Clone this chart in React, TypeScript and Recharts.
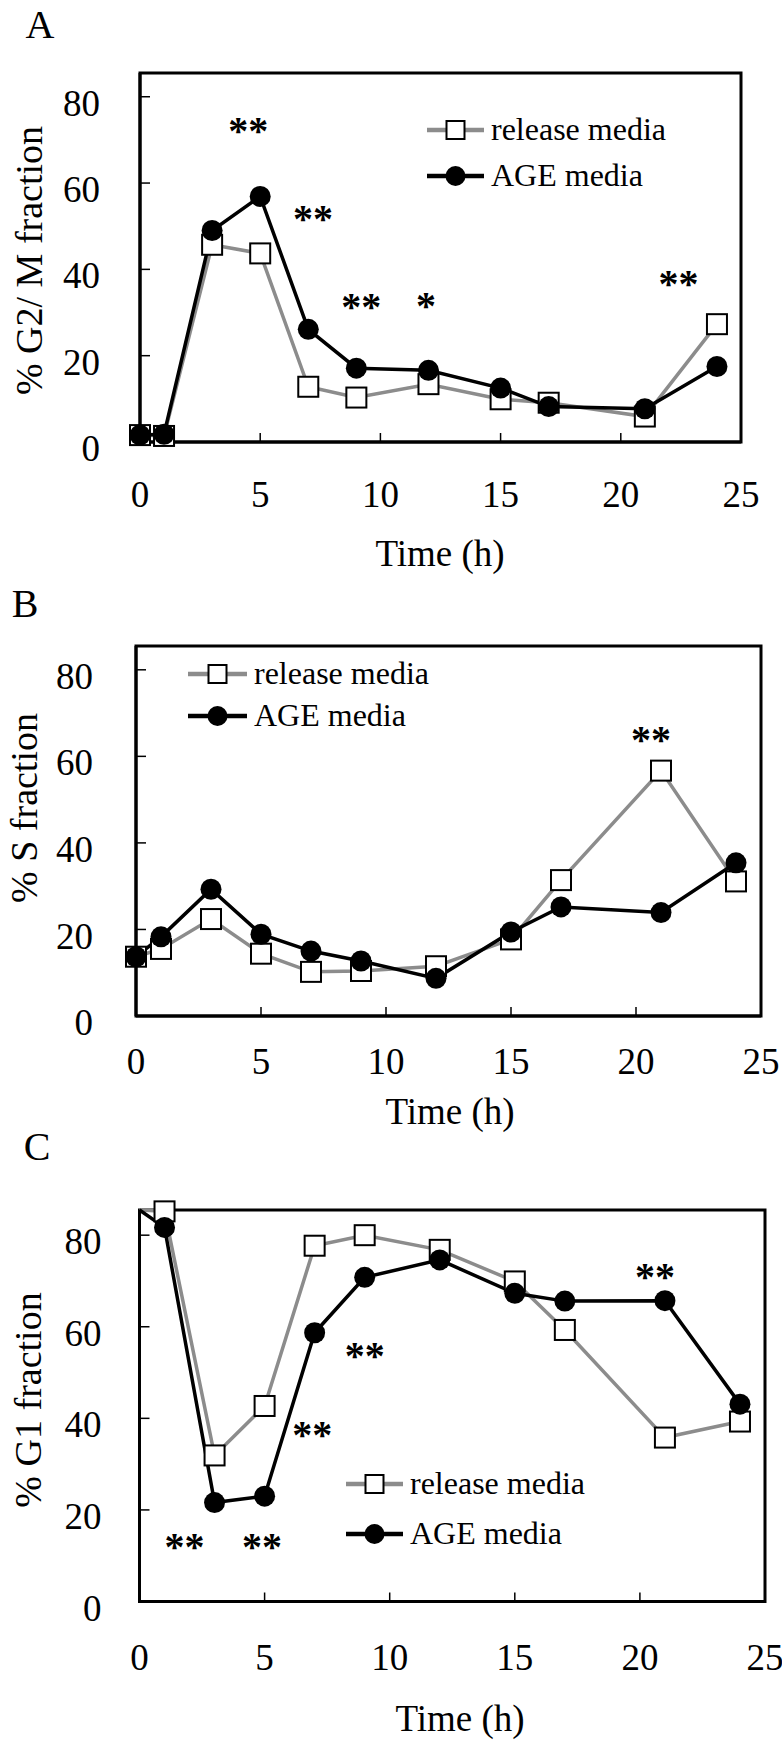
import React from 'react'
import { LineChart, Line, XAxis, YAxis, ReferenceDot, ReferenceArea } from 'recharts'

// sampling times (h)
const TIMES = [0, 1, 3, 5, 7, 9, 12, 15, 17, 21, 24]

// % G2/M fraction
const G2M_RELEASE = [1.6, 1.4, 45.7, 43.7, 12.8, 10.3, 13.4, 9.9, 9.1, 5.9, 27.3]
const G2M_AGE = [1.6, 1.8, 49, 56.9, 26.1, 17.1, 16.6, 12.5, 8.2, 7.7, 17.5]

// % S fraction
const S_RELEASE = [13.7, 15.5, 22.4, 14.4, 10.2, 10.4, 11.5, 17.7, 31.4, 56.7, 31.1]
const S_AGE = [13.7, 18.3, 29.3, 18.9, 15, 12.7, 8.7, 19.4, 25.2, 23.9, 35.4]

// % G1 fraction
const G1_RELEASE = [85.5, 85.2, 31.9, 42.7, 77.7, 80, 76.8, 69.9, 59.3, 35.8, 39.3]
const G1_AGE = [85.5, 81.7, 21.6, 23, 58.7, 70.8, 74.6, 67.3, 65.6, 65.7, 43.1]

// significance marks
const G2M_STARS = [
  { t: 4.5, v: 73.4, mark: '**' },
  { t: 7.2, v: 53.1, mark: '**' },
  { t: 9.2, v: 32.8, mark: '**' },
  { t: 11.9, v: 32.9, mark: '*' },
  { t: 22.4, v: 38.1, mark: '**' },
]
const S_STARS = [{ t: 20.6, v: 65.1, mark: '**' }]
const G1_STARS = [
  { t: 1.8, v: 13.2, mark: '**' },
  { t: 4.9, v: 13.2, mark: '**' },
  { t: 6.9, v: 37.7, mark: '**' },
  { t: 9.0, v: 54.9, mark: '**' },
  { t: 20.6, v: 72.2, mark: '**' },
]

const SERIES_NAMES = ['release media', 'AGE media']
const X_TICKS = [0, 5, 10, 15, 20, 25]
const Y_TICKS = [0, 20, 40, 60, 80]
const Y_MAX = 85.5

const GRAY = '#8c8c8c'
const FONT = "'Liberation Serif', 'Times New Roman', serif"

function buildRows(release: number[], age: number[]) {
  return TIMES.map((t, i) => ({ t, release: release[i], age: age[i] }))
}

function SquareDot(props: any) {
  const { cx, cy, value, index } = props
  if (cx == null || cy == null || value >= Y_MAX) return <g key={`sq-${index}`} />
  return (
    <rect key={`sq-${index}`} x={cx - 10} y={cy - 10} width={20} height={20}
      fill="#fff" stroke="#000" strokeWidth={2} />
  )
}

function CircleDot(props: any) {
  const { cx, cy, value, index } = props
  if (cx == null || cy == null || value >= Y_MAX) return <g key={`ci-${index}`} />
  return <circle key={`ci-${index}`} cx={cx} cy={cy} r={10.5} fill="#000" />
}

function XTick({ x, y, payload }: any) {
  return (
    <text x={x} y={y} dy="0.34em" textAnchor="middle" fontSize={37} fontFamily={FONT} fill="#000">
      {payload.value}
    </text>
  )
}

function YTick({ x, y, payload }: any) {
  return (
    <text x={x} y={y + 6.5} dy="0.34em" textAnchor="end" fontSize={37} fontFamily={FONT} fill="#000">
      {payload.value}
    </text>
  )
}

interface PanelProps {
  top: number
  height: number
  margin: { top: number; right: number; bottom: number; left: number }
  yWidth: number
  xTickMargin: number
  yTickMargin: number
  release: number[]
  age: number[]
  stars: { t: number; v: number; mark: string }[]
}

function Panel(p: PanelProps) {
  const rows = buildRows(p.release, p.age)
  const axisLine = { stroke: '#000', strokeWidth: 3 }
  return (
    <div style={{ position: 'absolute', left: 0, top: p.top }}>
      <LineChart width={782} height={p.height} data={rows} margin={p.margin}>
        <XAxis
          dataKey="t"
          type="number"
          domain={[0, 25]}
          ticks={X_TICKS}
          interval={0}
          height={60}
          tickSize={-9}
          tickMargin={p.xTickMargin}
          axisLine={axisLine}
          tickLine={{ stroke: '#000', strokeWidth: 1.5 }}
          tick={XTick}
        />
        <YAxis
          type="number"
          domain={[0, Y_MAX]}
          ticks={Y_TICKS}
          interval={0}
          width={p.yWidth}
          tickSize={-10}
          tickMargin={p.yTickMargin}
          axisLine={axisLine}
          tickLine={{ stroke: '#000', strokeWidth: 1.5 }}
          tick={YTick}
        />
        {/* plot-area frame */}
        <ReferenceArea x1={0} x2={25} y1={0} y2={Y_MAX} fill="none" fillOpacity={0}
          stroke="#000" strokeWidth={3} ifOverflow="visible" />
        <Line dataKey="release" stroke={GRAY} strokeWidth={3.5} dot={SquareDot}
          activeDot={false} isAnimationActive={false} />
        <Line dataKey="age" stroke="#000" strokeWidth={3.5} dot={CircleDot}
          activeDot={false} isAnimationActive={false} />
        {p.stars.map((s, i) => (
          <ReferenceDot
            key={i}
            x={s.t}
            y={s.v}
            r={0}
            ifOverflow="visible"
            shape={(d: any) => (
              <text x={d.cx} y={d.cy} dy="0.48em" textAnchor="middle" fontSize={40}
                fontWeight="bold" fontFamily={FONT} fill="#000">
                {s.mark}
              </text>
            )}
          />
        ))}
      </LineChart>
    </div>
  )
}

function LegendBox({ x1, x2, rows }: { x1: number; x2: number; rows: number[] }) {
  const mid = (x1 + x2) / 2
  return (
    <g>
      <line x1={x1} x2={x2} y1={rows[0]} y2={rows[0]} stroke={GRAY} strokeWidth={4.5} />
      <rect x={mid - 9} y={rows[0] - 9} width={18} height={18} fill="#fff" stroke="#000" strokeWidth={2} />
      <text x={x2 + 7} y={rows[0]} dy="0.3em" fontSize={32}>{SERIES_NAMES[0]}</text>
      <line x1={x1} x2={x2} y1={rows[1]} y2={rows[1]} stroke="#000" strokeWidth={4.5} />
      <circle cx={mid} cy={rows[1]} r={10} fill="#000" />
      <text x={x2 + 7} y={rows[1]} dy="0.3em" fontSize={32}>{SERIES_NAMES[1]}</text>
    </g>
  )
}

export default function App() {
  return (
    <div style={{ position: 'absolute', left: 0, top: 0, width: 782, height: 1744, background: '#fff', overflow: 'hidden' }}>
      <Panel top={0} height={520} margin={{ top: 73, right: 41, bottom: 18, left: 0 }}
        yWidth={140} xTickMargin={61.5} yTickMargin={50}
        release={G2M_RELEASE} age={G2M_AGE} stars={G2M_STARS} />
      <Panel top={580} height={520} margin={{ top: 66, right: 21, bottom: 24, left: 0 }}
        yWidth={136} xTickMargin={54} yTickMargin={53}
        release={S_RELEASE} age={S_AGE} stars={S_STARS} />
      <Panel top={1140} height={604} margin={{ top: 70, right: 17, bottom: 82.5, left: 0 }}
        yWidth={139.5} xTickMargin={65} yTickMargin={48}
        release={G1_RELEASE} age={G1_AGE} stars={G1_STARS} />
      <svg width={782} height={1744} style={{ position: 'absolute', left: 0, top: 0, pointerEvents: 'none' }}
        fontFamily={FONT} fill="#000">
        <text x={40} y={38} textAnchor="middle" fontSize={40}>A</text>
        <text x={25} y={617} textAnchor="middle" fontSize={40}>B</text>
        <text x={37} y={1160} textAnchor="middle" fontSize={40}>C</text>

        <text x={440} y={566} textAnchor="middle" fontSize={37}>Time (h)</text>
        <text x={450} y={1124} textAnchor="middle" fontSize={37}>Time (h)</text>
        <text x={460} y={1731} textAnchor="middle" fontSize={37}>Time (h)</text>

        <text transform="translate(41.5,260.5) rotate(-90)" textAnchor="middle" fontSize={38}>% G2/ M fraction</text>
        <text transform="translate(37,808) rotate(-90)" textAnchor="middle" fontSize={38}>% S fraction</text>
        <text transform="translate(41,1400) rotate(-90)" textAnchor="middle" fontSize={38}>% G1 fraction</text>

        <LegendBox x1={427} x2={484} rows={[130, 176]} />
        <LegendBox x1={188} x2={247} rows={[674, 716]} />
        <LegendBox x1={346} x2={403} rows={[1484, 1534]} />
      </svg>
    </div>
  )
}
